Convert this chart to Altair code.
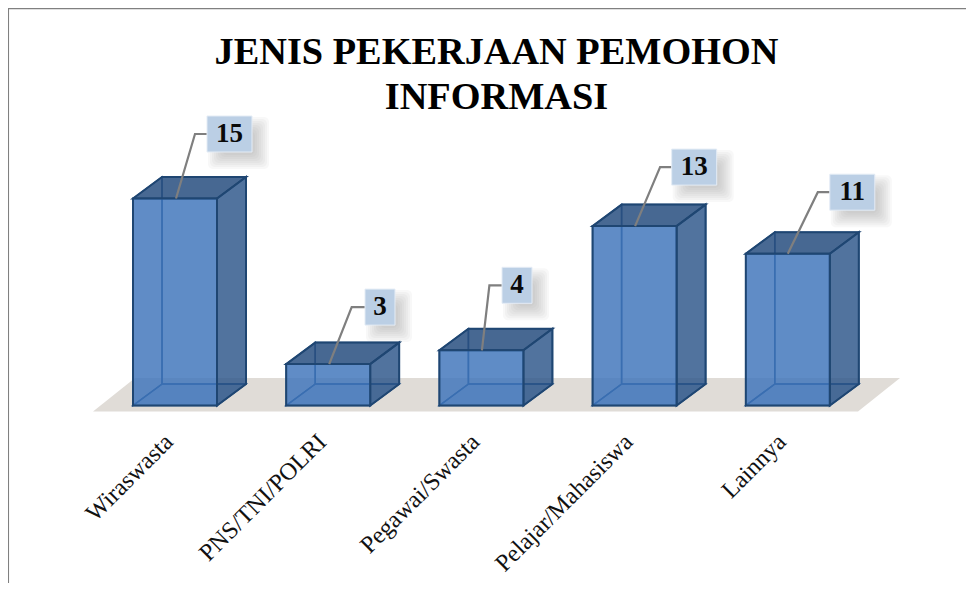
import altair as alt
import pandas as pd

categories = ["Wiraswasta", "PNS/TNI/POLRI", "Pegawai/Swasta", "Pelajar/Mahasiswa", "Lainnya"]
values = [15, 3, 4, 13, 11]
title_lines = ["JENIS PEKERJAAN PEMOHON", "INFORMASI"]

# layout: page pixels of the plot area, used only to configure scales
W, H = 958, 304
PAD_TOP = 100
PX_X, PX_Y = 153.2, 13.8           # px per category step / per value unit
X0_PX, Y0_PX = 167.0, 297.5        # first category centre / zero line inside the view

x_domain = [-X0_PX / PX_X, (W - X0_PX) / PX_X]
y_domain = [(Y0_PX - H) / PX_Y, Y0_PX / PX_Y]

def ux(px):
    return px / PX_X

def uy(px):
    return px / PX_Y

HALF = ux(42)
DX, DY = ux(29), uy(21.5)

# callout offsets (pixels relative to the front-top centre of each bar)
box_dx = [54.5, 51.8, 35.6, 59.6, 64.5]
box_dy = [64.5, 57.0, 65.0, 59.0, 61.5]
box_w = [45, 30, 30, 45, 45]
box_h = 36
anchor_dx = [1.0, 1.0, 0.5, 0.5, 0.0]
elbow_dx = [20, 23.5, 8, 25.5, 30]

xs = alt.Scale(domain=x_domain, range=[0, W], nice=False, zero=False)
ys = alt.Scale(domain=y_domain, range=[H, 0], nice=False, zero=False)

x_axis = alt.Axis(
    values=list(range(len(categories))),
    labelExpr="[" + ",".join(f"'{c}'" for c in categories) + "][datum.value]",
    labelAngle=-45, labelAlign="right", labelBaseline="middle",
    labelFont="Liberation Serif", labelFontSize=24.2, labelColor="#111111",
    labelPadding=26, labelOffset=-6, labelOverlap=False, labelBound=False, labelFlush=False,
    labelLimit=400, domain=False, ticks=False, grid=False, title=None,
)

def X(f="x", **kw):
    return alt.X(f"{f}:Q", scale=xs, axis=x_axis, **kw)

def Y(f="y", **kw):
    return alt.Y(f"{f}:Q", scale=ys, axis=None, title=None, **kw)

X2 = alt.X2("x2:Q")
Y2 = alt.Y2("y2:Q")

# bar faces
rows = {k: [] for k in ["back", "left", "bottom", "top", "right", "front"]}
for i, v in enumerate(values):
    l, r = i - HALF, i + HALF
    rows["back"] += [dict(b=i, x=l + DX, y=v + DY, y2=DY), dict(b=i, x=r + DX, y=v + DY, y2=DY)]
    rows["left"] += [dict(b=i, x=l, y=v, y2=0), dict(b=i, x=l + DX, y=v + DY, y2=DY)]
    rows["right"] += [dict(b=i, x=r, y=v, y2=0), dict(b=i, x=r + DX, y=v + DY, y2=DY)]
    rows["front"] += [dict(b=i, x=l, y=v, y2=0), dict(b=i, x=r, y=v, y2=0)]
    rows["bottom"] += [dict(b=i, y=0, x=l, x2=r), dict(b=i, y=DY, x=l + DX, x2=r + DX)]
    rows["top"] += [dict(b=i, y=v, x=l, x2=r), dict(b=i, y=v + DY, x=l + DX, x2=r + DX)]

def vface(name, fill, op, stroke, sw):
    return alt.Chart(pd.DataFrame(rows[name])).mark_area(
        fill=fill, fillOpacity=op, stroke=stroke, strokeWidth=sw, interpolate="linear"
    ).encode(x=X(), y=Y(), y2=Y2, detail="b:N")

def hface(name, fill, op, stroke, sw):
    return alt.Chart(pd.DataFrame(rows[name])).mark_area(
        orient="horizontal", fill=fill, fillOpacity=op, stroke=stroke, strokeWidth=sw, interpolate="linear"
    ).encode(y=Y(), x=X(), x2=X2, detail="b:N")

EDGE = "#1F4672"
BACK = "#1F4E85"

# floor
floor_df = pd.DataFrame([
    dict(y=uy(27.5), x=ux(135 - 175), x2=ux(900 - 175)),
    dict(y=uy(-6), x=ux(93 - 175), x2=ux(858 - 175)),
])
floor = alt.Chart(floor_df).mark_area(
    orient="horizontal", fill="#E0DCD7", interpolate="linear"
).encode(y=Y(), x=X(), x2=X2)

# callouts
box, shadow, lead, labels = [], [], [], []
for i, v in enumerate(values):
    cx = i + ux(box_dx[i])
    cy = v + uy(box_dy[i])
    hw, hh = ux(box_w[i] / 2), uy(box_h / 2)
    box.append(dict(x=cx - hw, x2=cx + hw, y=cy - hh, y2=cy + hh))
    labels.append(dict(x=cx, y=cy, t=str(v)))
    ax = i + ux(anchor_dx[i])
    ex = i + ux(elbow_dx[i])
    lead += [dict(b=i, o=0, x=ax, y=v), dict(b=i, o=1, x=ex, y=cy), dict(b=i, o=2, x=cx - hw, y=cy)]
    for m in range(-6, 9, 2):
        sx, sy = ux(9), uy(-9)
        shadow.append(dict(x=cx - hw + sx - ux(m), x2=cx + hw + sx + ux(m),
                           y=cy - hh + sy - uy(m), y2=cy + hh + sy + uy(m)))

shadow_l = alt.Chart(pd.DataFrame(shadow)).mark_rect(
    fill="#808080", opacity=0.055, cornerRadius=5
).encode(x=X(), x2=X2, y=Y(), y2=Y2)
box_l = alt.Chart(pd.DataFrame(box)).mark_rect(
    fill="#BBCFE5", stroke="#E4ECF5", strokeWidth=1
).encode(x=X(), x2=X2, y=Y(), y2=Y2)
lead_l = alt.Chart(pd.DataFrame(lead)).mark_line(
    color="#7F7F7F", strokeWidth=2.2, interpolate="linear"
).encode(x=X(), y=Y(), detail="b:N", order="o:Q")
text_l = alt.Chart(pd.DataFrame(labels)).mark_text(
    font="Liberation Serif", fontWeight="bold", fontSize=27, color="#0a0a0a", baseline="middle", align="center"
).encode(x=X(), y=Y(), text="t:N")

# picture frame
frame_top = alt.Chart(pd.DataFrame({"k": [0]})).mark_rule(color="#808080", strokeWidth=1.5).encode(
    x=alt.value(0), x2=alt.value(W), y=alt.value(-99.4))
frame_left = alt.Chart(pd.DataFrame({"k": [0]})).mark_rule(color="#808080", strokeWidth=1.5).encode(
    x=alt.value(0.3), y=alt.value(-100), y2=alt.value(H + 171))

chart = alt.layer(
    floor,
    vface("back", "#3F75BB", 0.10, BACK, 1.5),
    vface("left", "#3F75BB", 0.08, BACK, 1.5),
    hface("bottom", "#3F75BB", 0.25, BACK, 1.5),
    hface("top", "#2A5080", 0.85, EDGE, 2),
    vface("right", "#2A5487", 0.80, EDGE, 2),
    vface("front", "#3F75BB", 0.82, EDGE, 2),
    shadow_l, lead_l, box_l, text_l,
    frame_top, frame_left,
).properties(
    width=W, height=H,
    autosize=alt.AutoSizeParams(type="none"),
    padding={"left": 0, "top": PAD_TOP, "right": 0, "bottom": 171},
    title=alt.TitleParams(
        text=title_lines, font="Liberation Serif", fontWeight="bold", fontSize=38.3,
        color="#000000", anchor="middle", lineHeight=45, offset=-110, dx=9.5,
    ),
).configure_view(stroke=None)

chart.save("out.html", embed_options={"renderer": "svg", "actions": False})
